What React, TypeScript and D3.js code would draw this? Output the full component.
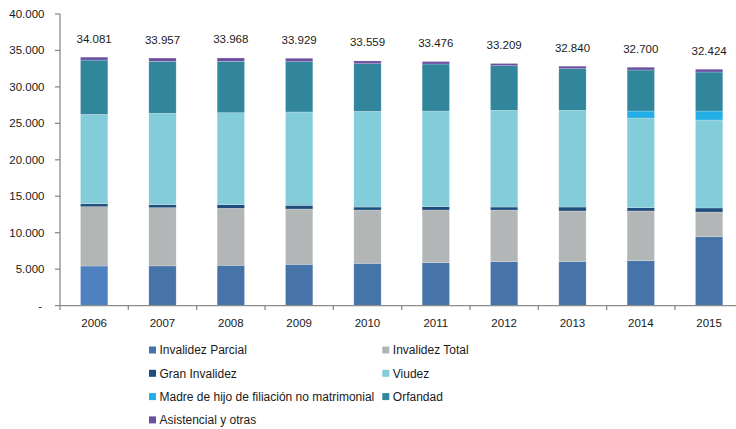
import React from "react";
import * as d3 from "d3";

const years = ["2006", "2007", "2008", "2009", "2010", "2011", "2012", "2013", "2014", "2015"];
const seriesNames = [
  "Invalidez Parcial",
  "Invalidez Total",
  "Gran Invalidez",
  "Viudez",
  "Madre de hijo de filiación no matrimonial",
  "Orfandad",
  "Asistencial y otras",
];
const invalidezParcial = [5430, 5450, 5530, 5660, 5800, 5890, 6020, 6050, 6160, 9450];
const invalidezTotal = [8140, 7980, 7820, 7590, 7310, 7220, 7090, 6930, 6820, 3390];
const granInvalidez = [400, 410, 490, 510, 410, 460, 410, 540, 450, 550];
const viudez = [12260, 12540, 12620, 12800, 13130, 13120, 13270, 13270, 12300, 12070];
const madre = [0, 0, 0, 0, 0, 0, 0, 0, 960, 1230];
const orfandad = [7450, 7130, 7050, 6900, 6530, 6450, 6120, 5710, 5630, 5350];
const totals = [34081, 33957, 33968, 33929, 33559, 33476, 33209, 32840, 32700, 32424];
const asistencial = totals.map(
  (t, i) => t - invalidezParcial[i] - invalidezTotal[i] - granInvalidez[i] - viudez[i] - madre[i] - orfandad[i]
);
const yTicks = [0, 5000, 10000, 15000, 20000, 25000, 30000, 35000, 40000];

const colors = ["#4674A8", "#B3B6B7", "#1F4E7D", "#83CCD9", "#23AEE5", "#32869B", "#6B4FA1"];
const firstBarColor = "#4F81C0";

const seriesValues = [invalidezParcial, invalidezTotal, granInvalidez, viudez, madre, orfandad, asistencial];

const fontFamily = "'Liberation Sans', Arial, sans-serif";

export default function App() {
  const W = 736;
  const H = 429;
  const left = 60;
  const y0 = 305.6;
  const yTop = 14;
  const step = 68.33;
  const x = d3
    .scaleBand<string>()
    .domain(years)
    .range([left, left + step * years.length])
    .paddingInner(0.6)
    .paddingOuter(0.3);
  const y = d3.scaleLinear().domain([0, 40000]).range([y0, yTop]);

  const rows = years.map((yr, i) => {
    const o: any = { year: yr };
    seriesNames.forEach((s, k) => (o[s] = seriesValues[k][i]));
    return o;
  });
  const stacked = d3.stack<any>().keys(seriesNames)(rows);

  const loc = d3.formatLocale({ decimal: ",", thousands: ".", grouping: [3], currency: ["", ""] });
  const fmt = loc.format(",.0f");

  const legendItems = seriesNames.map((s, k) => ({
    name: s,
    color: colors[k],
    col: k % 2,
    row: Math.floor(k / 2),
  }));

  return (
    <svg
      width={W}
      height={H}
      style={{ position: "absolute", left: 0, top: 0, background: "#fff" }}
      fontFamily={fontFamily}
    >
      {/* bars */}
      {stacked.map((layer, k) => (
        <g key={layer.key}>
          {layer.map((d, i) => {
            const h = y(d[0]) - y(d[1]);
            if (h <= 0) return null;
            return (
              <rect
                key={i}
                x={x(years[i])!}
                y={y(d[1])}
                width={x.bandwidth()}
                height={h}
                fill={k === 0 && i === 0 ? firstBarColor : colors[k]}
                stroke="#ffffff"
                strokeOpacity={0.35}
                strokeWidth={0.6}
              />
            );
          })}
        </g>
      ))}
      {/* y axis */}
      <line x1={left} x2={left} y1={yTop} y2={y0} stroke="#8C8C8C" strokeWidth={1.3} />
      {yTicks.map((t) => (
        <g key={t}>
          <line x1={left - 5} x2={left} y1={y(t)} y2={y(t)} stroke="#8C8C8C" strokeWidth={1.3} />
          <text
            x={t === 0 ? 42 : 44.5}
            y={y(t)}
            dy="0.35em"
            textAnchor="end"
            fontSize={11.5}
            fill="#1a1a1a"
          >
            {t === 0 ? "-" : fmt(t)}
          </text>
        </g>
      ))}
      {/* x axis */}
      <line x1={left} x2={W} y1={y0} y2={y0} stroke="#8C8C8C" strokeWidth={1.3} />
      {d3.range(years.length + 1).map((i) => {
        const xx = left + step * i;
        if (xx > W) return null;
        return <line key={i} x1={xx} x2={xx} y1={y0} y2={y0 + 4.5} stroke="#8C8C8C" strokeWidth={1.3} />;
      })}
      {years.map((yr) => (
        <text
          key={yr}
          x={x(yr)! + x.bandwidth() / 2}
          y={323}
          dy="0.35em"
          textAnchor="middle"
          fontSize={11.5}
          fill="#1a1a1a"
        >
          {yr}
        </text>
      ))}
      {/* totals */}
      {years.map((yr, i) => (
        <text
          key={yr}
          x={x(yr)! + x.bandwidth() / 2}
          y={y(totals[i]) - 18.5}
          dy="0.35em"
          textAnchor="middle"
          fontSize={11.5}
          fill="#1a1a1a"
        >
          {fmt(totals[i])}
        </text>
      ))}
      {/* legend */}
      {legendItems.map((it) => {
        const lx = it.col === 0 ? 149 : 382.3;
        const ly = 350 + it.row * 23.3;
        return (
          <g key={it.name}>
            <rect x={lx} y={ly - 3.5} width={7} height={7} fill={it.color} />
            <text x={lx + 10.5} y={ly} dy="0.35em" fontSize={12} fill="#1a1a1a">
              {it.name}
            </text>
          </g>
        );
      })}
    </svg>
  );
}
